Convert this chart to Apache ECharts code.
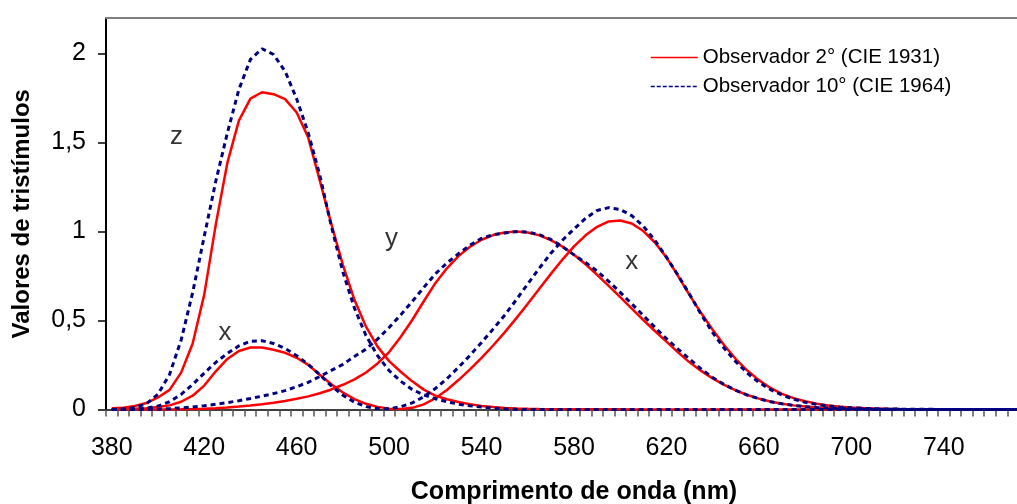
<!DOCTYPE html>
<html>
<head>
<meta charset="utf-8">
<script src="https://cdn.jsdelivr.net/npm/echarts@6/dist/echarts.min.js"></script>
<style>
html,body{margin:0;padding:0;background:#fff;}
#chart{width:1017px;height:504px;}
</style>
</head>
<body>
<div id="chart"></div>
<script>
// Wavelength categories (nm)
const wavelengths = [
  '380','385','390','395','400','405','410','415','420','425',
  '430','435','440','445','450','455','460','465','470','475',
  '480','485','490','495','500','505','510','515','520','525',
  '530','535','540','545','550','555','560','565','570','575',
  '580','585','590','595','600','605','610','615','620','625',
  '630','635','640','645','650','655','660','665','670','675',
  '680','685','690','695','700','705','710','715','720','725',
  '730','735','740','745','750','755','760','765','770','775',
  '780'
];
const xTickLabels = ['380','420','460','500','540','580','620','660','700','740'];
const yTickValues = [0, 0.5, 1, 1.5, 2];

// Observador 2° (CIE 1931)
const x2 = [
  0.001368,0.002236,0.004243,0.007650,0.014310,0.023190,0.043510,0.077630,0.134380,0.214770,
  0.283900,0.328500,0.348280,0.348060,0.336200,0.318700,0.290800,0.251100,0.195360,0.142100,
  0.095640,0.057950,0.032010,0.014700,0.004900,0.002400,0.009300,0.029100,0.063270,0.109600,
  0.165500,0.225750,0.290400,0.359700,0.433450,0.512050,0.594500,0.678400,0.762100,0.842500,
  0.916300,0.978600,1.026300,1.056700,1.062200,1.045600,1.002600,0.938400,0.854450,0.751400,
  0.642400,0.541900,0.447900,0.360800,0.283500,0.218700,0.164900,0.121200,0.087400,0.063600,
  0.046770,0.032900,0.022700,0.015840,0.011359,0.008111,0.005790,0.004109,0.002899,0.002049,
  0.001440,0.001000,0.000690,0.000476,0.000332,0.000235,0.000166,0.000117,0.000083,0.000059,
  0.000042
];
const y2 = [
  0.000039,0.000064,0.000120,0.000217,0.000396,0.000640,0.001210,0.002180,0.004000,0.007300,
  0.011600,0.016840,0.023000,0.029800,0.038000,0.048000,0.060000,0.073900,0.090980,0.112600,
  0.139020,0.169300,0.208020,0.258600,0.323000,0.407300,0.503000,0.608200,0.710000,0.793200,
  0.862000,0.914850,0.954000,0.980300,0.994950,1.000000,0.995000,0.978600,0.952000,0.915400,
  0.870000,0.816300,0.757000,0.694900,0.631000,0.566800,0.503000,0.441200,0.381000,0.321000,
  0.265000,0.217000,0.175000,0.138200,0.107000,0.081600,0.061000,0.044580,0.032000,0.023200,
  0.017000,0.011920,0.008210,0.005723,0.004102,0.002929,0.002091,0.001484,0.001047,0.000740,
  0.000520,0.000361,0.000249,0.000172,0.000120,0.000085,0.000060,0.000042,0.000030,0.000021,
  0.000015
];
const z2 = [
  0.006450,0.010550,0.020050,0.036210,0.067850,0.110200,0.207400,0.371300,0.645600,1.039050,
  1.385600,1.622960,1.747060,1.782600,1.772110,1.744100,1.669200,1.528100,1.287640,1.041900,
  0.812950,0.616200,0.465180,0.353300,0.272000,0.212300,0.158200,0.111700,0.078250,0.057250,
  0.042160,0.029840,0.020300,0.013400,0.008750,0.005750,0.003900,0.002750,0.002100,0.001800,
  0.001650,0.001400,0.001100,0.001000,0.000800,0.000600,0.000340,0.000240,0.000190,0.000100,
  0.000050,0.000030,0.000020,0.000010,0,0,0,0,0,0,
  0,0,0,0,0,0,0,0,0,0,
  0,0,0,0,0,0,0,0,0,0,
  0
];

// Observador 10° (CIE 1964)
const x10 = [
  0.000160,0.000662,0.002362,0.007242,0.019110,0.043400,0.084736,0.140638,0.204492,0.264737,
  0.314679,0.357719,0.383734,0.386726,0.370702,0.342957,0.302273,0.254085,0.195618,0.132349,
  0.080507,0.041072,0.016172,0.005132,0.003816,0.015444,0.037465,0.071358,0.117749,0.172953,
  0.236491,0.304213,0.376772,0.451584,0.529826,0.616053,0.705224,0.793832,0.878655,0.951162,
  1.014160,1.074300,1.118520,1.134300,1.123990,1.089100,1.030480,0.950740,0.856297,0.754930,
  0.647467,0.535110,0.431567,0.343690,0.268329,0.204300,0.152568,0.112210,0.081261,0.057930,
  0.040851,0.028623,0.019941,0.013842,0.009577,0.006605,0.004553,0.003145,0.002175,0.001506,
  0.001045,0.000727,0.000508,0.000356,0.000251,0.000178,0.000126,0.000090,0.000065,0.000046,
  0.000033
];
const y10 = [
  0.000017,0.000072,0.000253,0.000769,0.002004,0.004509,0.008756,0.014456,0.021391,0.029497,
  0.038676,0.049602,0.062077,0.074704,0.089456,0.106256,0.128201,0.152761,0.185190,0.219940,
  0.253589,0.297665,0.339133,0.395379,0.460777,0.531360,0.606741,0.685660,0.761757,0.823330,
  0.875211,0.923810,0.961988,0.982200,0.991761,0.999110,0.997340,0.982380,0.955552,0.915175,
  0.868934,0.825623,0.777405,0.720353,0.658341,0.593878,0.527963,0.461834,0.398057,0.339554,
  0.283493,0.228254,0.179828,0.140211,0.107633,0.081187,0.060281,0.044096,0.031800,0.022602,
  0.015905,0.011130,0.007749,0.005375,0.003718,0.002565,0.001768,0.001222,0.000846,0.000586,
  0.000407,0.000284,0.000199,0.000140,0.000098,0.000070,0.000050,0.000036,0.000025,0.000018,
  0.000013
];
const z10 = [
  0.000705,0.002928,0.010482,0.032344,0.086011,0.197120,0.389366,0.656760,0.972542,1.282500,
  1.553480,1.798500,1.967280,2.027300,1.994800,1.900700,1.745370,1.554900,1.317560,1.030200,
  0.772125,0.570060,0.415254,0.302356,0.218502,0.159249,0.112044,0.082248,0.060709,0.043050,
  0.030451,0.020584,0.013676,0.007918,0.003988,0.001091,0,0,0,0,
  0,0,0,0,0,0,0,0,0,0,
  0,0,0,0,0,0,0,0,0,0,
  0,0,0,0,0,0,0,0,0,0,
  0,0,0,0,0,0,0,0,0,0,
  0
];

// Curve annotations (wavelength nm, value)
const annotationText = ['z', 'y', 'x', 'x'];
const annotationNm = [408, 501, 429, 605];
const annotationValue = [1.53, 0.96, 0.43, 0.83];

const name2 = 'Observador 2° (CIE 1931)';
const name10 = 'Observador 10° (CIE 1964)';
const FONT = '"Liberation Sans", Arial, sans-serif';

const chart = echarts.init(document.getElementById('chart'), null, {renderer: 'canvas'});

function redLine(data) {
  return {
    name: name2, type: 'line', data: data, xAxisIndex: 0, yAxisIndex: 0,
    symbol: 'none', showSymbol: false, smooth: false,
    lineStyle: {color: '#FF0000', width: 2.5, type: 'solid'},
    itemStyle: {color: '#FF0000'}, z: 2
  };
}
function navyLine(data) {
  return {
    name: name10, type: 'line', data: data, xAxisIndex: 0, yAxisIndex: 0,
    symbol: 'none', showSymbol: false, smooth: false,
    lineStyle: {color: '#000080', width: 3, type: [5, 4]},
    itemStyle: {color: '#000080'}, z: 3
  };
}

const option = {
  animation: false,
  backgroundColor: '#ffffff',
  textStyle: {fontFamily: FONT},
  grid: {left: 106, width: 936, top: 18, bottom: 94.5, containLabel: false, outerBoundsMode: 'none'},
  legend: {
    orient: 'vertical', left: 645, top: 42, padding: 5,
    itemWidth: 47, itemHeight: 14, itemGap: 8,
    itemStyle: {opacity: 0},
    textStyle: {fontSize: 20.5, fontFamily: FONT, color: '#000'},
    data: [
      {name: name2, lineStyle: {color: '#FF0000', width: 1.5, type: 'solid'}},
      {name: name10, lineStyle: {color: '#000080', width: 1.5, type: [4, 2]}}
    ]
  },
  xAxis: [
    {
      type: 'category', data: wavelengths, boundaryGap: true, position: 'bottom',
      axisLine: {show: true, onZero: false, lineStyle: {color: '#000', width: 1.5}},
      axisTick: {show: true, interval: 0, length: 7, lineStyle: {color: '#555', width: 1.5}},
      axisLabel: {
        interval: function (idx, val) { return xTickLabels.indexOf(val) >= 0; },
        fontSize: 25, color: '#000', margin: 26, fontFamily: FONT
      },
      splitLine: {show: false},
      name: 'Comprimento de onda (nm)', nameLocation: 'middle', nameGap: 70,
      nameTextStyle: {fontSize: 25, fontWeight: 'bold', color: '#000', fontFamily: FONT}
    },
    {
      type: 'value', min: 377.5, max: 782.5, position: 'top',
      axisLine: {show: true, onZero: false, lineStyle: {color: '#808080', width: 2}},
      axisTick: {show: false}, axisLabel: {show: false}, splitLine: {show: false}
    }
  ],
  yAxis: {
    type: 'value', min: 0, max: 2.2, interval: 0.5,
    axisLine: {show: true, onZero: false, lineStyle: {color: '#000', width: 2}},
    axisTick: {show: true, length: 8, customValues: yTickValues, lineStyle: {color: '#000', width: 1.5}},
    axisLabel: {
      customValues: yTickValues,
      formatter: function (v) { return String(v).replace('.', ','); },
      fontSize: 25, color: '#000', margin: 20, fontFamily: FONT
    },
    splitLine: {show: false},
    name: 'Valores de tristímulos', nameLocation: 'middle', nameGap: 72, nameRotate: 90,
    nameTextStyle: {fontSize: 24, fontWeight: 'bold', color: '#000', fontFamily: FONT}
  },
  series: [
    redLine(x2), redLine(y2), redLine(z2),
    navyLine(x10), navyLine(y10), navyLine(z10),
    {
      name: 'annotations', type: 'scatter', xAxisIndex: 1, yAxisIndex: 0,
      symbolSize: 0, silent: true,
      itemStyle: {color: 'transparent'},
      label: {show: true, position: 'inside', formatter: '{b}', fontSize: 26, color: '#000', fontFamily: FONT},
      data: annotationText.map(function (t, i) { return {name: t, value: [annotationNm[i], annotationValue[i]]}; }),
      z: 5
    }
  ]
};
chart.setOption(option);
</script>
</body>
</html>
